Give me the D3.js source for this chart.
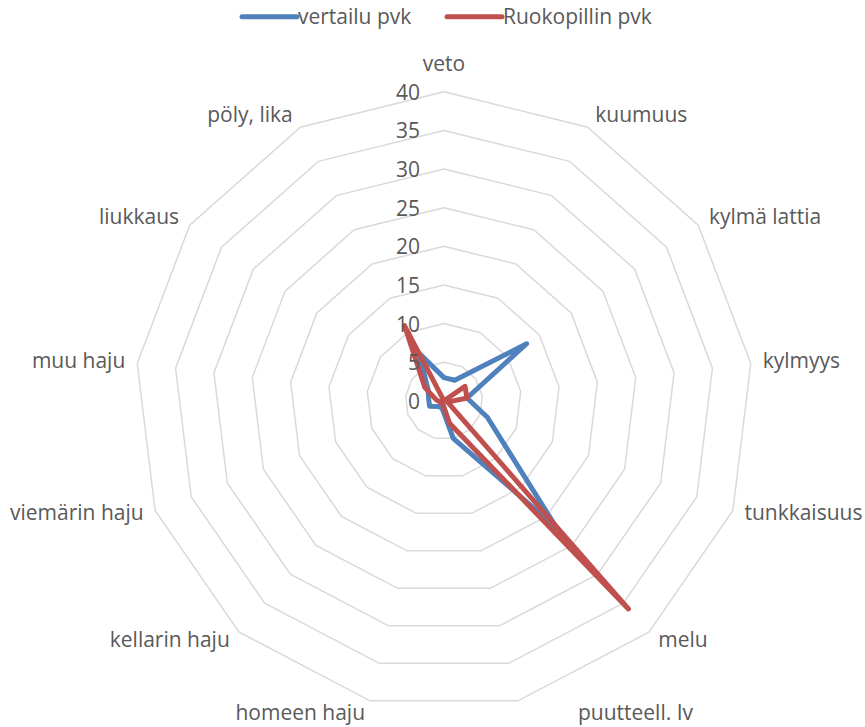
<!DOCTYPE html>
<html><head><meta charset="utf-8">
<script src="https://cdn.jsdelivr.net/npm/d3@7/dist/d3.min.js"></script>
<style>
body{margin:0;background:#fff;}
text{font-family:"Open Sans",sans-serif;fill:#595959;}
</style></head>
<body>
<svg id="chart" width="865" height="727"></svg>
<script>
const categories = ["veto","kuumuus","kylmä lattia","kylmyys","tunkkaisuus","melu","puutteell. Iv","homeen haju","kellarin haju","viemärin haju","muu haju","liukkaus","pöly, lika"];
const vertailu = [3, 3, 13, 3, 6, 22, 5, 1, 1, 2, 2, 2.5, 7];
const ruokopilli = [0, 0, 3.3, 3, 0.5, 36, 3, 0.5, 0.5, 0.5, 1, 3, 11];
const seriesNames = ["vertailu pvk", "Ruokopillin pvk"];
const tickValues = [0, 5, 10, 15, 20, 25, 30, 35, 40];

const colors = ["#4F81BD", "#C0504D"];
const svg = d3.select("#chart");
const cx = 444, cy = 400.8, R = 309;
const n = categories.length;
const r = d3.scaleLinear().domain([0, 40]).range([0, R]);
const ang = i => i * 2 * Math.PI / n;

const g = svg.append("g").attr("transform", `translate(${cx},${cy})`);

// grid rings
tickValues.filter(t => t > 0).forEach(t => {
  g.append("path")
    .attr("d", d3.lineRadial().angle((d, i) => ang(i)).radius(() => r(t)).curve(d3.curveLinearClosed)(categories))
    .attr("fill", "none").attr("stroke", "#D9D9D9").attr("stroke-width", 1.5);
});

// series
[vertailu, ruokopilli].forEach((vals, k) => {
  g.append("path")
    .attr("d", d3.lineRadial().angle((d, i) => ang(i)).radius(d => r(d)).curve(d3.curveLinearClosed)(vals))
    .attr("fill", "none").attr("stroke", colors[k]).attr("stroke-width", 5)
    .attr("stroke-linejoin", "round").attr("stroke-linecap", "round");
});

// tick labels
tickValues.forEach(t => {
  g.append("text").attr("x", -24).attr("y", -r(t) + 8)
    .attr("text-anchor", "end").attr("font-size", 21).text(t);
});

// category labels
categories.forEach((c, i) => {
  const a = ang(i), s = Math.sin(a), co = Math.cos(a);
  const vx = r(40) * s, vy = -r(40) * co;
  let x, y, anchor;
  if (Math.abs(s) < 0.05) {
    x = vx; y = vy - 21; anchor = "middle";
  } else if (Math.abs(co) > 0.95) {
    anchor = s > 0 ? "start" : "end";
    x = vx + (s > 0 ? 60 : -5); y = vy + 19;
  } else {
    anchor = s > 0 ? "start" : "end";
    x = vx + (s > 0 ? 1 : -1) * (4 + 8 * Math.abs(s));
    y = vy - 12 * co - 1.5 + 7;
  }
  g.append("text").attr("x", x).attr("y", y).attr("text-anchor", anchor)
    .attr("font-size", 21).text(c);
});

// legend
const leg = svg.append("g");
const legX = [242, 447];
seriesNames.forEach((nm, k) => {
  leg.append("line").attr("x1", legX[k]).attr("x2", legX[k] + 55)
    .attr("y1", 16.7).attr("y2", 16.7)
    .attr("stroke", colors[k]).attr("stroke-width", 5).attr("stroke-linecap", "round");
  leg.append("text").attr("x", legX[k] + 56).attr("y", 23.5)
    .attr("font-size", 21).text(nm);
});
</script>
</body></html>
